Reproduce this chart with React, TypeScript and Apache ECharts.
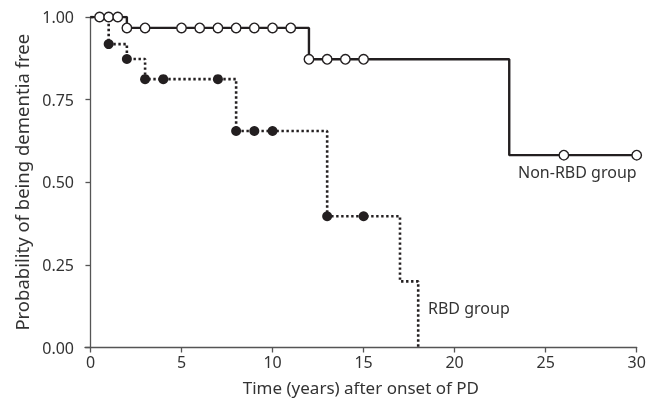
import React, { useEffect, useRef } from "react";
import * as echarts from "echarts";

// Kaplan–Meier step points (time, survival)
const nonRbdTimes = [0, 2, 12, 23, 30];
const nonRbdSurv = [1.0, 0.967, 0.872, 0.582, 0.582];
const nonRbdCensored = [0.5, 1, 1.5, 2, 3, 5, 6, 7, 8, 9, 10, 11, 12, 13, 14, 15, 26, 30];

const rbdTimes = [0, 1, 2, 3, 8, 13, 17, 18];
const rbdSurv = [1.0, 0.918, 0.873, 0.812, 0.655, 0.397, 0.2, 0.0];
const rbdCensored = [1, 2, 3, 4, 7, 8, 9, 10, 13, 15];

const xTicks = [0, 5, 10, 15, 20, 25, 30];

const survAt = (times: number[], surv: number[], t: number) => {
  let s = surv[0];
  for (let i = 0; i < times.length; i++) if (times[i] <= t) s = surv[i];
  return s;
};

const INK = "#231f20";
const AXIS = "#555555";
const TEXT = "#333333";
const FONT = "Noto Sans";

export default function App() {
  const ref = useRef<HTMLDivElement>(null);
  useEffect(() => {
    const chart = echarts.init(ref.current!, null, { renderer: "svg" });
    chart.setOption({
      animation: false,
      grid: { left: 85, right: 22.3, top: 17, bottom: 59.5, outerBoundsMode: "none", containLabel: false },
      xAxis: {
        type: "value",
        min: -0.3,
        max: 30,
        splitLine: { show: false },
        axisLine: { lineStyle: { color: AXIS, width: 1.3 } },
        axisTick: { customValues: xTicks, length: 5, lineStyle: { color: AXIS, width: 1.3 } },
        axisLabel: {
          customValues: xTicks,
          color: TEXT,
          fontFamily: FONT,
          fontSize: 16,
          margin: 6,
        },
        name: "Time (years) after onset of PD",
        nameLocation: "middle",
        nameGap: 31,
        nameTextStyle: { color: TEXT, fontFamily: FONT, fontSize: 17 },
      },
      yAxis: {
        type: "value",
        min: 0,
        max: 1,
        interval: 0.25,
        splitLine: { show: false },
        axisLine: { show: true, lineStyle: { color: AXIS, width: 1.3 } },
        axisTick: { show: true, length: 5, lineStyle: { color: AXIS, width: 1.3 } },
        axisLabel: {
          color: TEXT,
          fontFamily: FONT,
          fontSize: 16,
          margin: 11,
          formatter: (v: number) => v.toFixed(2),
        },
        name: "Probability of being dementia free",
        nameLocation: "middle",
        nameGap: 52,
        nameTextStyle: { color: TEXT, fontFamily: FONT, fontSize: 18.5 },
      },
      series: [
        {
          type: "line",
          step: "end",
          data: rbdTimes.map((t, i) => [t, rbdSurv[i]]),
          showSymbol: false,
          lineStyle: { color: INK, width: 2.6, type: [2.4, 2.6] },
          z: 2,
        },
        {
          type: "line",
          step: "end",
          data: nonRbdTimes.map((t, i) => [t, nonRbdSurv[i]]),
          showSymbol: false,
          lineStyle: { color: INK, width: 2.4 },
          z: 3,
        },
        {
          type: "scatter",
          data: rbdCensored.map((t) => [t, survAt(rbdTimes, rbdSurv, t)]),
          symbol: "circle",
          symbolSize: 10,
          itemStyle: { color: INK, opacity: 1 },
          z: 4,
        },
        {
          type: "scatter",
          data: nonRbdCensored.map((t) => [t, survAt(nonRbdTimes, nonRbdSurv, t)]),
          symbol: "circle",
          symbolSize: 9.5,
          itemStyle: { color: "#ffffff", borderColor: INK, borderWidth: 1.4, opacity: 1 },
          z: 5,
        },
      ],
      graphic: [
        {
          type: "text",
          left: 518,
          top: 164,
          style: { text: "Non-RBD group", fill: TEXT, font: `16px "${FONT}"` },
        },
        {
          type: "text",
          left: 428,
          top: 300,
          style: { text: "RBD group", fill: TEXT, font: `16px "${FONT}"` },
        },
      ],
    });
    return () => chart.dispose();
  }, []);
  return (
    <div
      ref={ref}
      style={{ position: "fixed", left: 0, top: 0, width: 659, height: 407 }}
    />
  );
}
